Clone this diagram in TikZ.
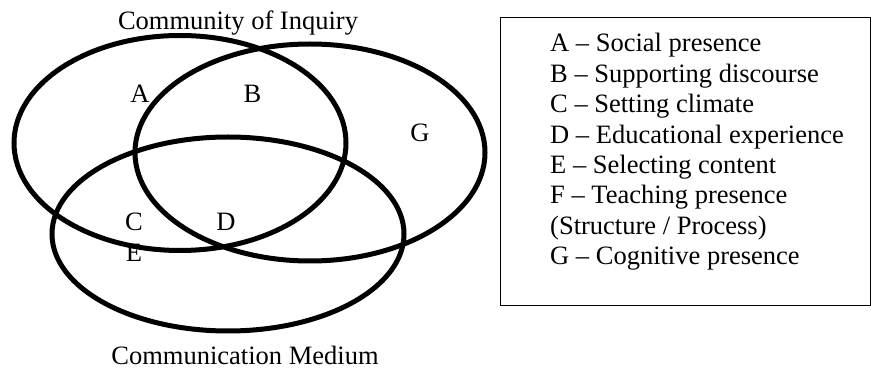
\documentclass[tikz,border=0pt]{standalone}
\usepackage{fontspec}
\setmainfont{Liberation Serif}
\usetikzlibrary{calc}

\begin{document}
\begin{tikzpicture}[x=1pt,y=-1pt]%%venn
                \tikzstyle{circ}  = [line width=5pt]
                \tikzstyle{lbl}   = [inner sep=0pt, anchor=base, font=\fontsize{26.5}{30}\selectfont]
                \useasboundingbox (0,0) rectangle (871,371);
                \coordinate (inq) at (180,143);
                \coordinate (cog) at (310,152.5);
                \coordinate (med) at (228,234);
                \draw [circ] (inq) ellipse [x radius=166, y radius=107.5];
                \draw [circ] (cog) ellipse [x radius=175, y radius=108.5];
                \draw [circ] (med) ellipse [x radius=176, y radius=97];
                \node [lbl](tinq) at (238,29.5) {Community of Inquiry};
                \node [lbl](tmed) at (245,365) {Communication Medium};
                \node [lbl](a) at (140,103) {A};
                \node [lbl](b) at (252.5,103) {B};
                \node [lbl](g) at (420,142) {G};
                \node [lbl](c) at (134,231) {C};
                \node [lbl](d) at (226,231) {D};
                \node [lbl](e) at (134,262) {E};
                \node [draw, line width=1pt, anchor=north west, minimum width=370pt, minimum height=288pt, inner sep=0pt](key) at (500,17) {};
                \foreach \t [count=\i] in {{A – Social presence}, {B – Supporting discourse}, {C – Setting climate}, {D – Educational experience}, {E – Selecting content}, {F – Teaching presence}, {(Structure / Process)}, {G – Cognitive presence}}
                {
                        \node [lbl, anchor=base west](k\i) at ($(550,52)+(0,{(\i-1)*30.4})$) {\t};
                }
\end{tikzpicture}
\end{document}
